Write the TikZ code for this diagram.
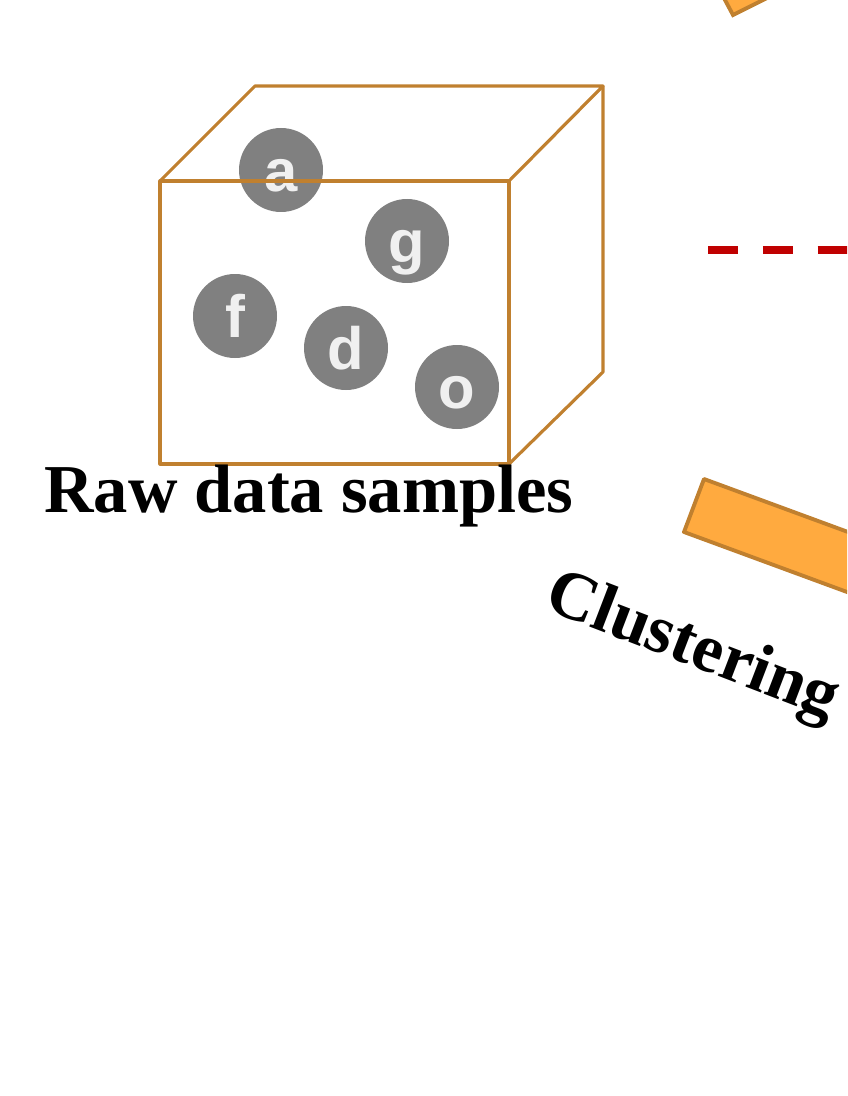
\documentclass[tikz,border=0pt]{standalone}
\usepackage{fontspec}
\setmainfont{Liberation Serif}
\newfontfamily\arialfont{Liberation Sans}
\definecolor{boxline}{HTML}{C0802F}
\definecolor{barfill}{HTML}{FFAA3F}
\definecolor{dashred}{HTML}{C00000}
\begin{document}
\begin{tikzpicture}[x=0.1mm,y=-0.1mm,
    sample/.style={circle,fill=gray,minimum size=8.4mm,inner sep=0pt,
        text height=12.5pt,text depth=0pt,
        text=white!94!black,font=\arialfont\bfseries\fontsize{17}{17}\selectfont},
    label/.style={font=\bfseries\fontsize{19.5}{19.5}\selectfont,inner sep=0pt}]
    \useasboundingbox (0,0) rectangle (847,1096);
    \clip (0,0) rectangle (847,1096);

    % samples in the box
    \node[sample] (a) at (281,170) {a};
    \node[sample] (g) at (407,241) {g};
    \node[sample] (f) at (235,316) {f};
    \node[sample] (d) at (346,348) {d};
    \node[sample] (o) at (457,387) {o};

    % box
    \begin{scope}[draw=boxline,line width=0.9pt,line join=round,
        preaction={draw=black!7,line width=2.6pt}]
        \draw (160,181) rectangle (509,464);
        \draw (160,181) -- (255,86) -- (603,86) -- (509,181);
        \draw (603,86) -- (603,372) -- (509,464);
    \end{scope}

    \node[label,anchor=base] (raw) at (309,512) {Raw data samples};

    % right part
    \fill[barfill,draw=boxline,line width=1.1pt] (717,-15) -- (733,15) -- (793,-15) -- cycle;
    \draw[dashred,line width=2.3pt,dash pattern=on 8.5pt off 7.1pt] (708,250) -- (900,250);
    \filldraw[fill=barfill,draw=boxline,line width=1.1pt,line join=round]
        (704,479) -- (684,532) -- (1059,670) -- (1079,617) -- cycle;
    \node[label,anchor=base,rotate=-21] (clus) at (686,664) {Clustering};
\end{tikzpicture}
\end{document}
